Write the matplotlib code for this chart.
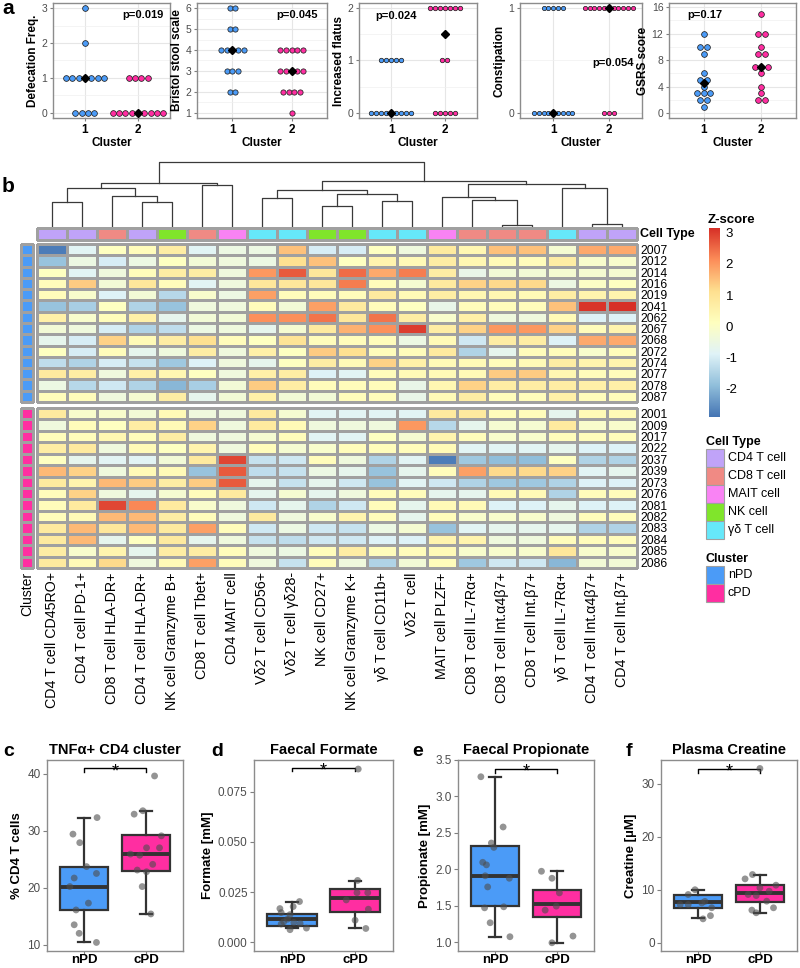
import numpy as np
import matplotlib
matplotlib.use("Agg")
import matplotlib.pyplot as plt
from matplotlib.colors import LinearSegmentedColormap, ListedColormap
from matplotlib.patches import Rectangle
from matplotlib.ticker import MultipleLocator, FormatStrFormatter

plt.rcParams['font.family'] = ['Liberation Sans', 'DejaVu Sans']
plt.rcParams['axes.unicode_minus'] = False

W, H = 800, 968
BLUE = '#4B9BF7'
PINK = '#FF2EA1'
EDGE = '#A0A0A0'

# ---------------- panel a : GI symptom scores per cluster
defec_1 = [3, 2] + [1] * 7 + [0] * 4
defec_2 = [1] * 4 + [0] * 9
bristol_1 = [6] * 2 + [5] * 2 + [4] * 5 + [3] * 3 + [2] * 2
bristol_2 = [4] * 5 + [3] * 5 + [2] * 4 + [1]
flatus_1 = [1] * 5 + [0] * 9
flatus_2 = [2] * 7 + [1] * 2 + [0] * 5
const_1 = [1] * 5 + [0] * 9
const_2 = [1] * 11 + [0] * 3
gsrs_1 = [12, 10, 10, 9, 6, 5, 5, 4, 3, 3, 3, 2, 2, 1]
gsrs_2 = [15, 12, 12, 10, 9, 9, 7, 7, 7, 6, 4, 3, 2, 2]

# ---------------- panel b : z-scored cell cluster frequencies
col_labels = ['CD4 T cell CD45RO+', 'CD4 T cell PD-1+', 'CD8 T cell HLA-DR+', 'CD4 T cell HLA-DR+',
              'NK cell Granzyme B+', 'CD8 T cell Tbet+', 'CD4 MAIT cell', 'Vδ2 T cell CD56+',
              'Vδ2 T cell γδ28-', 'NK cell CD27+', 'NK cell Granzyme K+', 'γδ T cell CD11b+',
              'Vδ2 T cell', 'MAIT cell PLZF+', 'CD8 T cell IL-7Rα+', 'CD8 T cell Int.α4β7+',
              'CD8 T cell Int.β7+', 'γδ T cell IL-7Rα+', 'CD4 T cell Int.α4β7+', 'CD4 T cell Int.β7+']
col_types = [0, 0, 1, 0, 3, 1, 2, 4, 4, 3, 3, 4, 4, 2, 1, 1, 1, 4, 0, 0]
type_names = ['CD4 T cell', 'CD8 T cell', 'MAIT cell', 'NK cell', 'γδ T cell']
type_colors = ['#C0A3F8', '#F08A84', '#F983F4', '#80E52B', '#66E8FA']

npd_ids = ['2007', '2012', '2014', '2016', '2019', '2041', '2062', '2067', '2068', '2072',
           '2074', '2077', '2078', '2087']
cpd_ids = ['2001', '2009', '2017', '2022', '2037', '2039', '2073', '2076', '2081', '2082',
           '2083', '2084', '2085', '2086']

z_npd = np.array([
    [-2.8, -0.8, 0.1, 0.2, 0.7, -0.8, -0.5, -0.5, 1.5, -1.0, -1.0, 0.1, -0.4, 0.8, 0.4, 1.5, 1.5, -0.2, 1.8, 1.8],
    [-1.8, -0.5, -1.0, -0.5, 0.1, -0.3, -0.4, -0.5, 1.1, 1.5, 0.1, 0.5, 0.3, 0.7, 0.4, 0.3, 0.2, 0.7, -0.1, -0.1],
    [0.1, -0.8, -0.4, 0.2, 0.7, 0.7, -0.4, 2.0, 2.7, 0.9, 2.5, 1.8, 2.3, 0.7, -0.6, -0.3, -0.3, -0.2, -0.2, -0.2],
    [0.2, 1.4, -0.3, 0.9, 0.2, -0.8, -0.4, 0.9, 0.9, 0.9, 2.3, 0.2, -0.2, 0.8, 1.3, 1.2, 1.2, -0.5, 0.0, 0.1],
    [0.2, -0.1, -0.9, -0.3, -1.4, -0.1, -0.5, 1.9, 0.2, 0.2, 0.2, 0.8, 0.3, 0.7, 0.4, 0.4, 0.3, 0.7, 0.5, 0.5],
    [-1.8, -1.6, 0.1, -1.5, -1.8, -0.4, -0.4, 0.2, -0.3, 1.9, 0.8, 0.2, 0.1, -0.6, 0.2, 0.2, 0.2, 1.5, 3.1, 3.15],
    [0.6, -0.1, 0.2, 0.6, -0.7, -0.3, -0.3, 2.1, 2.1, 2.4, 0.9, 2.4, 0.7, -0.1, 0.6, -0.4, -0.4, 0.3, -0.9, -0.9],
    [-0.3, -0.4, -1.0, -1.5, -1.3, -0.5, -0.4, -0.7, -0.2, 0.8, 1.7, 2.1, 3.0, 0.7, 1.3, 2.0, 2.0, 1.3, 0.2, 0.5],
    [-0.7, -1.0, 1.3, 0.3, 0.7, 1.1, 0.2, 0.1, 1.0, 0.2, 0.2, 0.2, -0.5, 0.3, -1.1, 0.7, 0.7, -0.9, 1.8, 1.8],
    [0.1, -1.0, 0.2, -0.7, -0.4, 0.7, -0.4, 0.6, 0.1, 1.4, 1.1, 0.2, 0.2, 0.8, -1.5, -0.7, 0.2, 0.2, -0.1, 0.2],
    [-1.3, -1.5, -1.0, -1.2, -1.7, -0.9, -0.4, -0.7, 0.1, 0.7, 0.3, 1.3, 0.6, 0.3, 0.3, 0.2, 0.3, 0.7, 0.5, 0.5],
    [0.8, 0.7, -0.4, 0.6, 0.4, 0.1, -0.4, 0.6, 0.7, -0.9, -0.8, 0.2, 0.3, 0.3, 0.3, 1.4, 1.4, 0.4, 0.2, 0.2],
    [-0.5, -1.4, -1.1, -1.5, -2.0, -1.6, -0.3, 1.4, 0.7, 0.2, 0.2, 0.2, -0.6, 0.4, 1.3, 0.7, 0.7, 0.7, 0.6, 0.6],
    [0.2, 0.2, -0.4, -0.2, 0.7, -0.7, -0.3, 0.6, -0.3, -0.3, 0.2, 0.2, -0.6, 0.3, 0.7, 0.2, 0.2, 0.6, 0.2, 0.2],
])
z_cpd = np.array([
    [0.8, -0.1, -0.1, -0.3, 0.3, -0.4, -0.4, 0.8, -0.2, -0.8, -0.8, -0.8, -0.8, 0.8, 0.8, 0.2, 0.2, -0.7, 0.3, 0.3],
    [-0.4, 0.2, 0.1, 0.7, 0.3, 1.3, -0.4, 0.8, 0.3, -0.4, -0.4, -0.4, 2.0, -1.4, -0.7, -0.2, -0.2, 0.8, -0.1, -0.1],
    [0.2, 0.2, 0.4, 0.2, 0.7, -0.4, -0.4, -0.2, 0.2, -0.8, -0.8, 0.1, -0.2, 0.5, 0.2, -0.1, -0.1, 0.2, 0.2, 0.2],
    [0.7, 0.8, -0.4, 0.3, 0.1, 0.5, -0.4, 0.2, -0.2, -0.1, 0.2, 0.2, 0.2, 0.3, -0.8, -0.8, -0.8, -0.7, -0.9, -0.9],
    [0.1, -0.7, -0.8, -0.8, -0.3, 0.8, 2.9, -1.2, -1.1, 0.2, -0.4, -1.5, -0.8, -2.8, -1.7, -1.9, -1.9, 0.1, -1.5, -1.5],
    [1.6, 1.3, -0.4, 0.3, 0.3, -1.8, 2.7, -1.3, -1.2, -0.5, -0.7, -1.8, -0.7, 0.2, 1.9, 1.2, 1.2, 1.3, -0.8, -0.7],
    [0.8, 0.5, 1.6, 1.4, 0.7, 1.4, 2.7, -0.7, -1.2, -0.7, -1.1, -1.8, -0.8, -1.1, -1.5, -1.7, -1.7, -1.5, -0.9, -0.9],
    [0.2, 1.3, -0.4, -0.7, -0.2, 0.2, 0.8, -0.7, -0.2, -0.7, -0.4, 0.2, 0.2, -0.7, -0.7, 0.3, 0.3, -1.5, 0.2, 0.2],
    [0.2, 0.8, 2.9, 2.2, 0.8, -0.1, -0.4, -1.1, -0.7, -1.5, -1.1, 0.2, -0.7, 0.3, 0.3, -0.9, -0.9, -0.7, -0.9, -0.9],
    [0.2, 0.3, 1.6, 1.6, 0.7, 0.2, -0.4, 0.8, -0.4, -0.1, 0.5, 0.2, -0.7, 0.2, -0.1, -0.1, -0.1, -0.4, 0.2, 0.2],
    [0.8, 1.6, 0.9, 1.6, 0.8, 1.9, 0.2, -1.1, -0.5, -1.1, -1.2, -0.5, -0.2, -1.8, -0.8, -0.7, -0.7, -0.7, -1.5, -1.5],
    [0.8, 1.6, -0.7, 0.1, 0.8, -0.7, -0.4, -1.2, -1.3, -1.1, -1.1, -0.9, -0.9, 0.5, 0.5, -0.4, -0.4, 0.2, 0.2, 0.2],
    [0.7, -0.1, 0.5, -0.7, 0.7, 0.7, 0.2, -0.4, -0.5, 0.2, 0.7, 0.2, 0.2, 0.3, -0.1, -0.1, -0.1, 0.9, -0.1, -0.1],
    [0.8, 0.3, 1.2, -0.4, 0.3, 1.9, 0.2, -0.4, -1.2, 0.2, -0.4, -1.5, -0.3, 0.2, -1.7, -1.1, -1.1, -2.0, -0.3, -0.3],
])
zmin, zmax = -2.9, 3.15

# column dendrogram (child a, child b, merge height), leaves 0..19, new nodes 20+
col_linkage = [(0, 1, 25.0), (3, 4, 25.0), (2, 21, 31.4), (20, 22, 39.4), (5, 6, 42.4),
               (23, 24, 44.4), (7, 8, 29.0), (9, 10, 21.0), (11, 12, 26.0), (27, 28, 32.7),
               (26, 29, 36.7), (15, 16, 2.4), (14, 31, 26.7), (13, 32, 30.0), (18, 19, 3.4),
               (17, 34, 39.4), (33, 35, 43.4), (30, 36, 46.0), (25, 37, 65.0)]

# ---------------- panels c-f : box plots (whislo, q1, median, q3, whishi)
groups = ['nPD', 'cPD']
tnf_box = [(10.4, 16.1, 20.2, 23.7, 32.3), (15.4, 23.0, 25.9, 29.2, 33.5)]
tnf_npd = [32.3, 29.4, 27.9, 23.7, 22.5, 21.7, 20.2, 17.3, 16.1, 13.5, 12.0, 10.4]
tnf_cpd = [39.6, 32.9, 33.5, 29.1, 27.0, 25.9, 25.7, 27.0, 24.1, 23.1, 22.8, 20.2, 15.4]
tnf_jit = [[0.21, -0.18, -0.07, 0.04, 0.2, -0.16, -0.23, 0.07, -0.13, -0.16, -0.08, 0.2],
           [0.14, -0.19, -0.05, 0.25, 0.22, -0.25, -0.10, 0.01, 0.11, -0.14, 0.01, -0.06, 0.08]]

form_box = [(0.0069, 0.0079, 0.0115, 0.0143, 0.0203), (0.0069, 0.0152, 0.0223, 0.0264, 0.0305)]
form_npd = [0.0203, 0.0178, 0.0168, 0.0148, 0.0138, 0.0115, 0.0102, 0.0099, 0.0094, 0.0071, 0.0063, 0.0091]
form_cpd = [0.0862, 0.0308, 0.0247, 0.0247, 0.0211, 0.0165, 0.011, 0.0069]
form_jit = [[0.12, 0.02, -0.19, -0.17, -0.03, -0.07, -0.13, 0.03, 0.13, 0.23, -0.03, -0.17],
            [0.05, 0.04, 0.03, 0.2, -0.14, 0.21, 0.0, 0.17]]

prop_box = [(1.073, 1.493, 1.912, 2.314, 3.272), (0.99, 1.342, 1.525, 1.72, 1.972)]
prop_npd = [3.27, 2.58, 2.36, 2.30, 2.095, 2.06, 1.876, 1.91, 1.757, 1.47, 1.484, 1.265, 1.073]
prop_cpd = [1.972, 1.876, 1.675, 1.493, 1.438, 0.99, 1.082]
prop_jit = [[-0.23, 0.13, -0.06, -0.02, -0.2, -0.14, 0.23, -0.16, -0.12, -0.17, 0.14, -0.08, 0.24],
            [-0.25, -0.08, 0.04, -0.01, -0.19, -0.08, 0.26]]

crea_box = [(4.58, 6.46, 7.72, 8.97, 10.04), (5.65, 7.72, 9.29, 10.86, 12.87)]
crea_npd = [10.0, 9.1, 7.8, 7.5, 7.2, 6.6, 4.5, 5.1, 7.2]
crea_cpd = [32.9, 12.87, 12.05, 10.86, 10.36, 9.73, 9.1, 8.9, 7.84, 6.15, 6.59, 5.65]
crea_jit = [[-0.05, -0.16, 0.11, 0.06, -0.16, 0.22, 0.08, 0.2, -0.29],
            [0.0, -0.12, -0.24, 0.26, 0.0, 0.15, -0.19, -0.06, 0.11, -0.13, 0.22, -0.06]]


def px(x0, y0, x1, y1):
    return [x0 / W, 1 - y1 / H, (x1 - x0) / W, (y1 - y0) / H]


fig = plt.figure(figsize=(W / 100, H / 100), dpi=100)


def dot_panel(rect, v1, v2, ylabel, ylim, ystep, ptxt, pxy, dot_px):
    ax = fig.add_axes(px(*rect))
    ax.set_xlim(0.4, 2.6)
    ax.set_ylim(*ylim)
    step = dot_px / ((rect[2] - rect[0]) / 2.2)
    for xc, vals, col in ((1, v1, BLUE), (2, v2, PINK)):
        vals = np.asarray(vals)
        for v in np.unique(vals):
            n = int((vals == v).sum())
            xs = xc + (np.arange(n) - (n - 1) / 2) * step
            ax.plot(xs, [v] * n, 'o', ms=dot_px / 1.389 - 0.4, mfc=col, mec='#222222',
                    mew=0.55, ls='none', zorder=3, clip_on=False)
        ax.plot(xc, np.median(vals), 'D', ms=3.6, color='black', zorder=4)
    ax.yaxis.set_major_locator(MultipleLocator(ystep))
    ax.yaxis.set_minor_locator(MultipleLocator(ystep / 2))
    ax.set_xticks([1, 2], ['1', '2'], fontweight='bold', fontsize=8.5)
    ax.grid(True, which='major', color='#E6E6E6', lw=0.8, zorder=0)
    ax.grid(True, which='minor', axis='y', color='#F0F0F0', lw=0.5, zorder=0)
    ax.set_axisbelow(True)
    ax.tick_params(axis='y', labelsize=7.5, labelcolor='#4D4D4D', color='#7F7F7F', length=2.5, pad=1.5)
    ax.tick_params(axis='x', color='#7F7F7F', length=2.5, pad=1.5)
    ax.tick_params(which='minor', length=0)
    for s in ax.spines.values():
        s.set_color('#8C8C8C')
        s.set_linewidth(1.0)
    ax.set_ylabel(ylabel, fontweight='bold', fontsize=8.5, labelpad=2)
    ax.set_xlabel('Cluster', fontweight='bold', fontsize=8.5, labelpad=1)
    ax.text(pxy[0], pxy[1], ptxt, transform=ax.transAxes, ha='center', va='center',
            fontweight='bold', fontsize=8)
    return ax


dot_panel((53, 3, 170, 118), defec_1, defec_2, 'Defecation Freq.', (-0.15, 3.15), 1,
          'p=0.019', (0.77, 0.9), 6.3)
dot_panel((197, 3, 327, 118), bristol_1, bristol_2, 'Bristol stool scale', (0.75, 6.25), 1,
          'p=0.045', (0.77, 0.9), 5.8)
dot_panel((359, 3, 477, 118), flatus_1, flatus_2, 'Increased flatus', (-0.1, 2.1), 1,
          'p=0.024', (0.31, 0.89), 5.0)
dot_panel((520, 3, 642, 118), const_1, const_2, 'Constipation', (-0.05, 1.05), 1,
          'p=0.054', (0.76, 0.48), 4.8)
dot_panel((669, 3, 796, 118), gsrs_1, gsrs_2, 'GSRS score', (-0.7, 16.6), 4,
          'p=0.17', (0.28, 0.9), 6.3)
fig.text(2 / W, 1 - 9 / H, 'a', fontsize=15, fontweight='bold', va='center')

# ---------------- panel b
fig.text(2 / W, 1 - 186 / H, 'b', fontsize=15, fontweight='bold', va='center')
zcmap = LinearSegmentedColormap.from_list(
    'rdylbu', ['#4575B4', '#91BFDB', '#E0F3F8', '#FFFFBF', '#FEE090', '#FC8D59', '#D73027'])
ncol = len(col_labels)

# dendrogram
axd = fig.add_axes(px(37, 160, 637, 227))
pos = {i: i + 0.5 for i in range(ncol)}
hgt = {i: 0.0 for i in range(ncol)}
for k, (a, b, h) in enumerate(col_linkage):
    axd.plot([pos[a], pos[a], pos[b], pos[b]], [hgt[a], h, h, hgt[b]], color='#3A3A3A', lw=0.9)
    pos[ncol + k] = (pos[a] + pos[b]) / 2
    hgt[ncol + k] = h
axd.set_xlim(0, ncol)
axd.set_ylim(0, 67)
axd.axis('off')

# cell type annotation bar
axc = fig.add_axes(px(37, 228, 637, 240))
m = axc.pcolormesh(np.array([col_types]), cmap=ListedColormap(type_colors), vmin=-0.5, vmax=4.5,
                   edgecolors=EDGE, linewidth=0.8)
m.set_clip_on(False)
axc.set_xlim(0, ncol)
axc.set_ylim(1, 0)
axc.axis('off')
fig.text(640 / W, 1 - 234 / H, 'Cell Type', fontsize=9, fontweight='bold', va='center')


def heat(rect, z, ids, show_cols):
    ax = fig.add_axes(px(*rect))
    mesh = ax.pcolormesh(z, cmap=zcmap, vmin=zmin, vmax=zmax, edgecolors=EDGE, linewidth=0.8)
    mesh.set_clip_on(False)
    ax.set_xlim(0, z.shape[1])
    ax.set_ylim(z.shape[0], 0)
    ax.yaxis.tick_right()
    ax.set_yticks(np.arange(len(ids)) + 0.5, ids)
    ax.tick_params(length=0, labelsize=8.7, pad=2.5)
    for s in ax.spines.values():
        s.set_visible(False)
    if show_cols:
        ax.set_xticks(np.arange(z.shape[1]) + 0.5, col_labels, rotation=90, fontsize=10.3)
        ax.tick_params(axis='x', pad=3)
    else:
        ax.set_xticks([])
    return ax


def row_anno(rect, n, color):
    ax = fig.add_axes(px(*rect))
    mesh = ax.pcolormesh(np.zeros((n, 1)), cmap=ListedColormap([color]), edgecolors=EDGE, linewidth=0.8)
    mesh.set_clip_on(False)
    ax.set_ylim(n, 0)
    ax.axis('off')


heat((37, 244, 637, 402), z_npd, npd_ids, False)
heat((37, 408, 637, 568), z_cpd, cpd_ids, True)
row_anno((21, 244, 33, 402), len(npd_ids), BLUE)
row_anno((21, 408, 33, 568), len(cpd_ids), PINK)
fig.text(27 / W, 1 - 572 / H, 'Cluster', rotation=90, fontsize=10, ha='center', va='top')

# colour key
cax = fig.add_axes(px(709, 228, 720, 417))
cax.imshow(np.linspace(zmin, zmax, 256)[:, None], aspect='auto', cmap=zcmap, origin='lower',
           extent=[0, 1, zmin, zmax])
cax.set_ylim(zmin, zmax)
cax.set_xticks([])
cax.yaxis.tick_right()
cax.set_yticks([-2, -1, 0, 1, 2, 3])
cax.tick_params(length=0, labelsize=9.5, pad=4)
for s in cax.spines.values():
    s.set_visible(False)
fig.text(708 / W, 1 - 220 / H, 'Z-score', fontsize=9.5, fontweight='bold', va='center')


def legend_block(title, names, colors, y_title):
    fig.text(706 / W, 1 - y_title / H, title, fontsize=9, fontweight='bold', va='center')
    y0 = y_title + 7
    for i, (nm, c) in enumerate(zip(names, colors)):
        yt = y0 + 18 * i
        fig.add_artist(Rectangle((706 / W, 1 - (yt + 18) / H), 18 / W, 18 / H, facecolor=c,
                                 edgecolor=EDGE, lw=0.8, transform=fig.transFigure))
        fig.text(728 / W, 1 - (yt + 9) / H, nm, fontsize=9, va='center')


legend_block('Cell Type', type_names, type_colors, 442)
legend_block('Cluster', groups, [BLUE, PINK], 559)


# ---------------- panels c-f
def box_panel(rect, stats, pts, jit, title, ylabel, ylim, yticks, yfmt, sig_y, letter, lx):
    ax = fig.add_axes(px(*rect))
    st = [dict(whislo=s[0], q1=s[1], med=s[2], q3=s[3], whishi=s[4], fliers=[]) for s in stats]
    dark = '#333333'
    bp = ax.bxp(st, positions=[1, 2], widths=0.78, patch_artist=True, showfliers=False,
                boxprops=dict(lw=1.6, edgecolor=dark),
                medianprops=dict(color=dark, lw=2.8, solid_capstyle='butt'),
                whiskerprops=dict(color=dark, lw=1.6),
                capprops=dict(color=dark, lw=1.6), capwidths=0.19)
    for patch, c in zip(bp['boxes'], [BLUE, PINK]):
        patch.set_facecolor(c)
    for i, (vals, jj) in enumerate(zip(pts, jit)):
        ax.scatter(np.array(jj) + i + 1, vals, s=24, color='#4D4D4D', alpha=0.6,
                   edgecolors='none', zorder=4)
    ax.set_xlim(0.4, 2.6)
    ax.set_ylim(*ylim)
    ax.set_yticks(yticks)
    ax.yaxis.set_major_formatter(FormatStrFormatter(yfmt))
    ax.set_xticks([1, 2], groups, fontweight='bold', fontsize=9.5)
    ax.tick_params(axis='y', labelsize=8.5, labelcolor='#4D4D4D', color='#7F7F7F', length=3, pad=1.5)
    ax.tick_params(axis='x', color='#7F7F7F', length=2, pad=0.3)
    for s in ax.spines.values():
        s.set_color('#8C8C8C')
        s.set_linewidth(1.0)
    ax.set_ylabel(ylabel, fontweight='bold', fontsize=9.5, labelpad=3)
    ax.set_title(title, fontweight='bold', fontsize=10.5, pad=4)
    tip = 0.02 * (ylim[1] - ylim[0])
    ax.plot([1, 1, 2, 2], [sig_y - tip, sig_y, sig_y, sig_y - tip], color='black', lw=1.0)
    ax.annotate('*', (1.5, sig_y), xytext=(0, -5.5), textcoords='offset points', ha='center',
                va='baseline', fontsize=13)
    fig.text(lx / W, 1 - 751 / H, letter, fontsize=14, fontweight='bold', va='center')


box_panel((47, 760, 183, 951), tnf_box, [tnf_npd, tnf_cpd], tnf_jit, 'TNFα+ CD4 cluster',
          '% CD4 T cells', (8.9, 42.4), [10, 20, 30, 40], '%d', 40.93, 'c', 3)
box_panel((254, 760, 393, 951), form_box, [form_npd, form_cpd], form_jit, 'Faecal Formate',
          'Formate [mM]', (-0.0043, 0.0907), [0, 0.025, 0.05, 0.075], '%.3f', 0.0869, 'd', 211)
box_panel((458, 760, 594, 951), prop_box, [prop_npd, prop_cpd], prop_jit, 'Faecal Propionate',
          'Propionate [mM]', (0.877, 3.5), [1.0, 1.5, 2.0, 2.5, 3.0, 3.5], '%.1f', 3.377, 'e', 412)
box_panel((661, 760, 797, 951), crea_box, [crea_npd, crea_cpd], crea_jit, 'Plasma Creatine',
          'Creatine [µM]', (-1.57, 34.5), [0, 10, 20, 30], '%d', 32.8, 'f', 626)

fig.savefig('out.png', dpi=100)
